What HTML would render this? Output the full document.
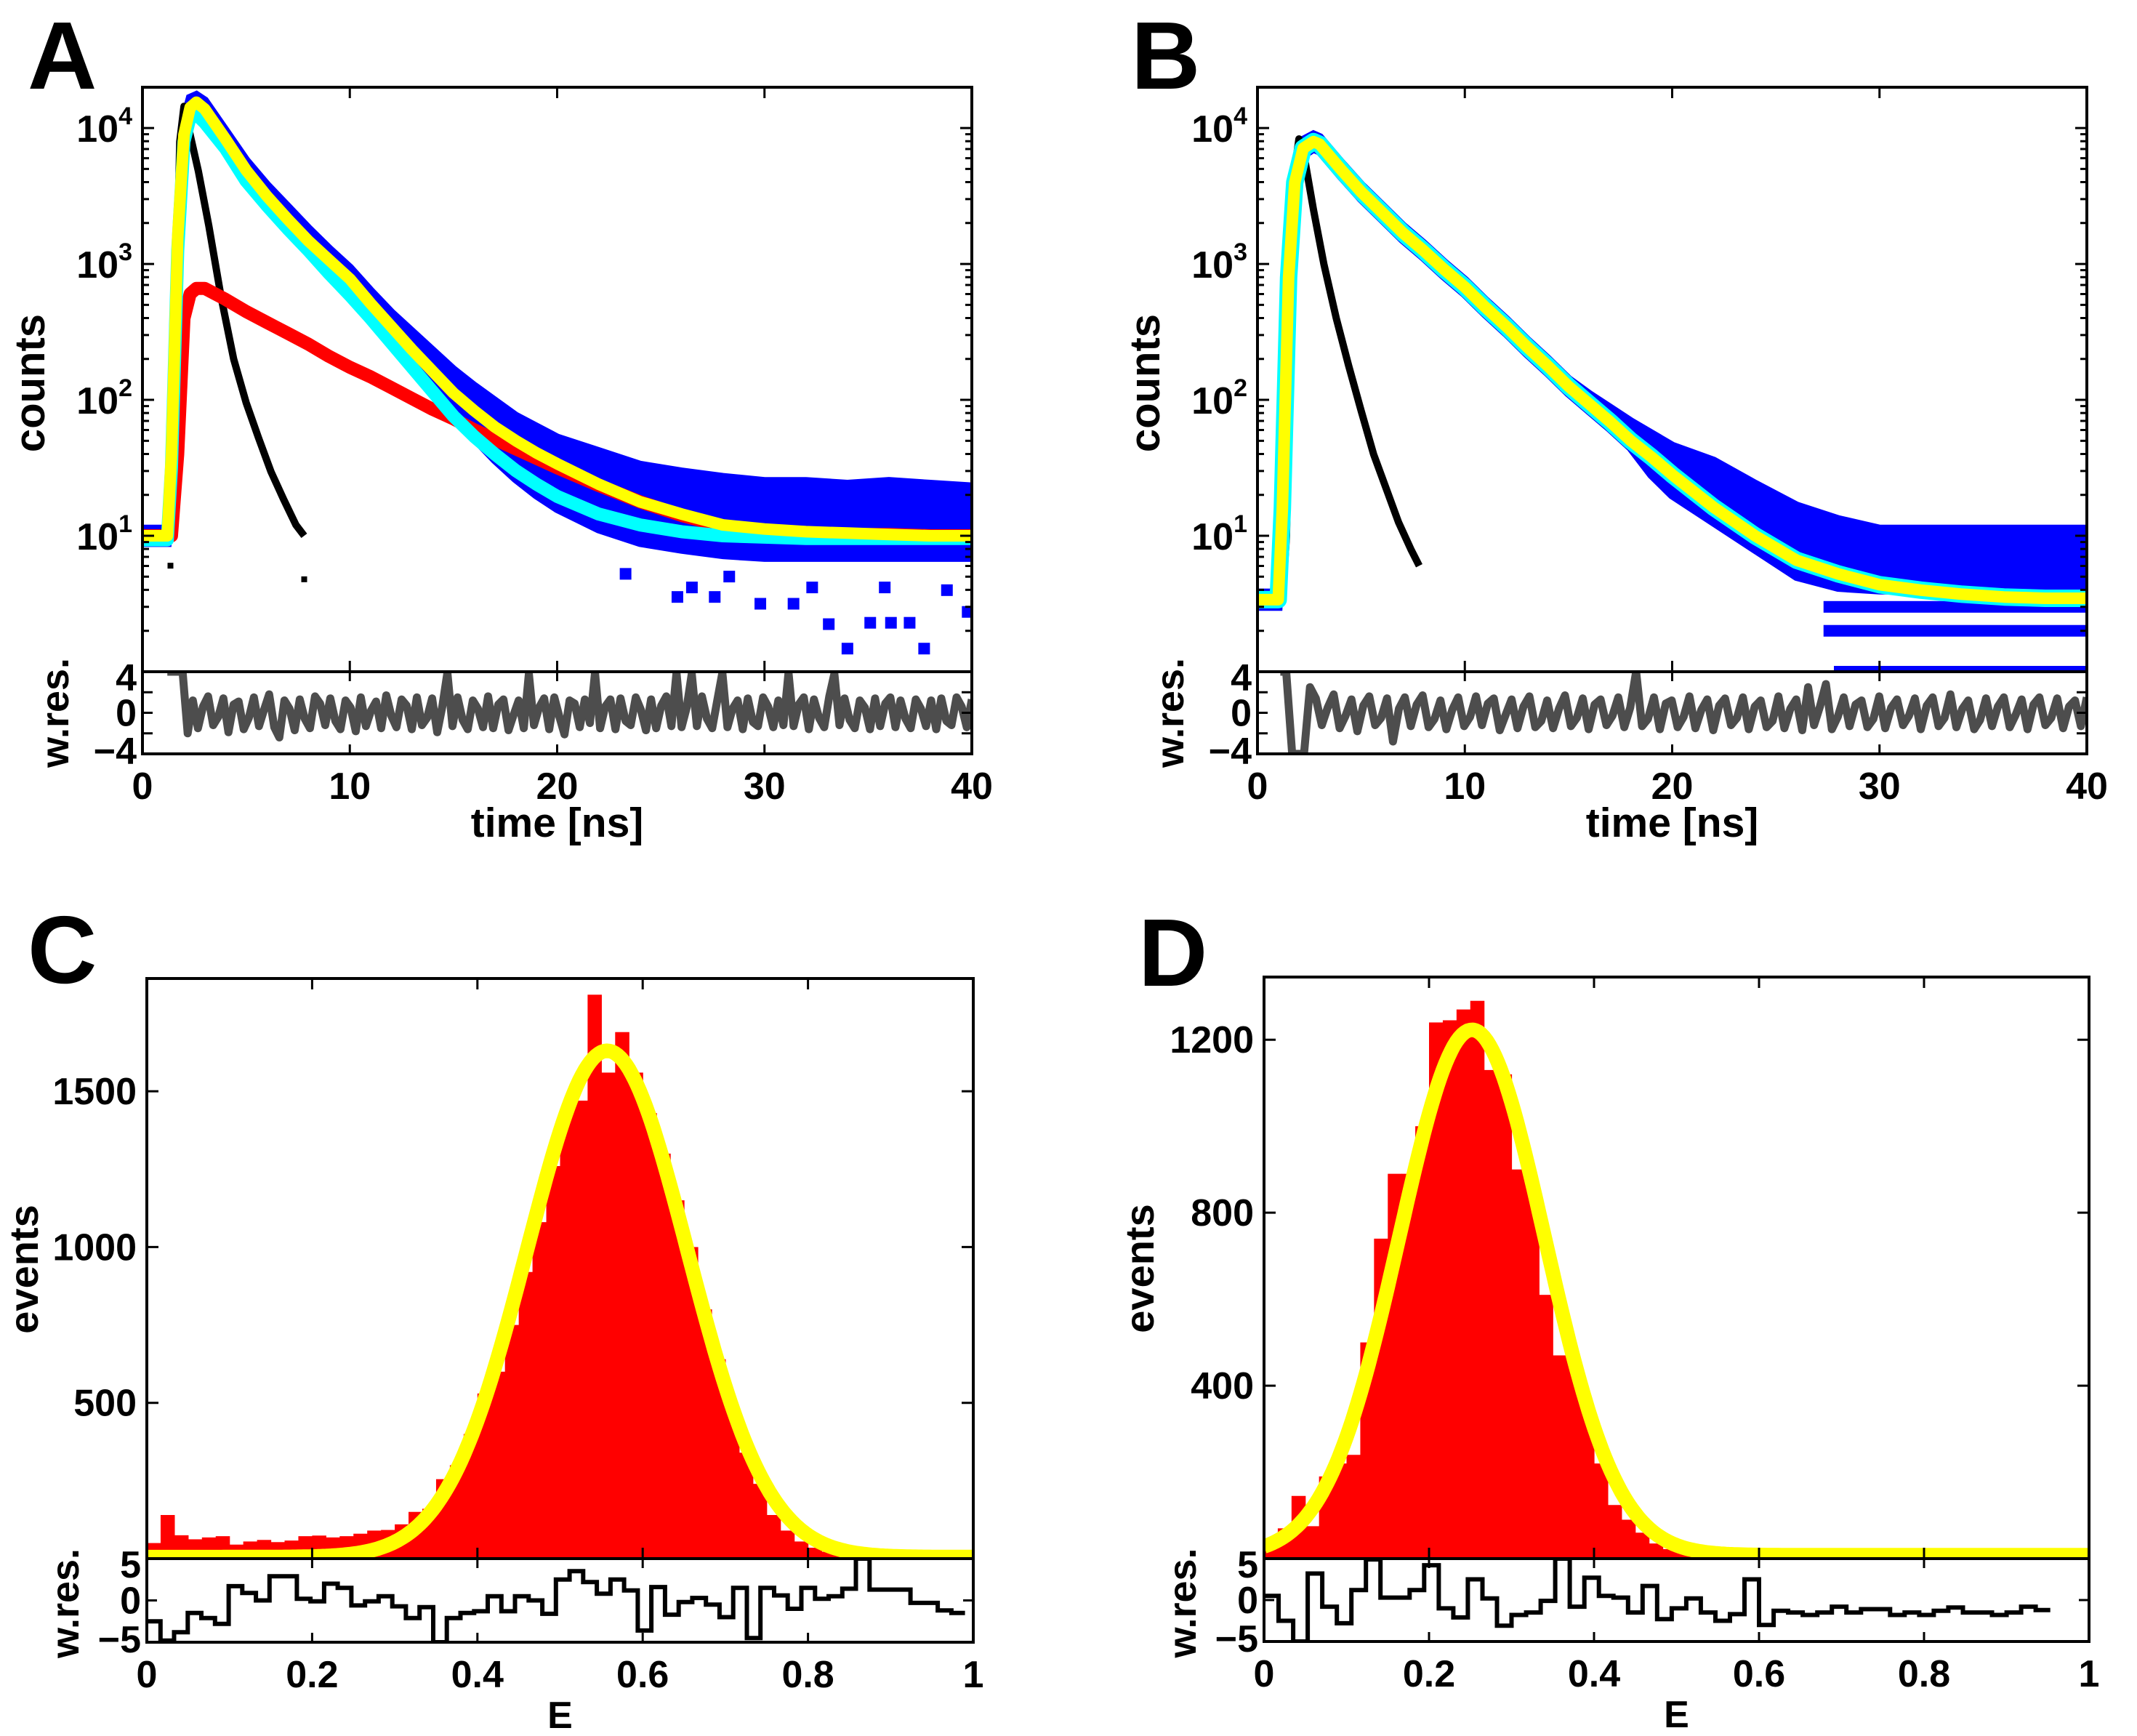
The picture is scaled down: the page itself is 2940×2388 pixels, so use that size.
<!DOCTYPE html>
<html><head><meta charset="utf-8"><title>Fluorescence decay and FRET histograms</title>
<style>html,body{margin:0;padding:0;background:#fff;}svg{display:block;font-family:"Liberation Sans",Arial,sans-serif;font-weight:bold;}</style>
</head><body>
<svg id="chart" xmlns="http://www.w3.org/2000/svg" width="2940" height="2388" viewBox="0 0 2940 2388">
<rect x="0" y="0" width="2940" height="2388" fill="#fff"/>
<defs>
<clipPath id="clipAm"><rect x="196" y="120" width="1141" height="804"/></clipPath>
<clipPath id="clipAr"><rect x="196" y="924" width="1141" height="113"/></clipPath>
<clipPath id="clipBm"><rect x="1730" y="120" width="1141" height="804"/></clipPath>
<clipPath id="clipBr"><rect x="1730" y="924" width="1141" height="113"/></clipPath>
<clipPath id="clipCm"><rect x="202" y="1346" width="1137" height="798"/></clipPath>
<clipPath id="clipCr"><rect x="202" y="2144" width="1137" height="115"/></clipPath>
<clipPath id="clipDm"><rect x="1739" y="1344" width="1135" height="800"/></clipPath>
<clipPath id="clipDr"><rect x="1739" y="2144" width="1135" height="114"/></clipPath>
</defs>
</svg>
<script>
// ---------- Panel A data (log10 counts) ----------
const tA = [0,1.2,1.4,1.7,2.0,2.3,2.6,3,4,5,6,7,8,9,10,11,12,13,14,15,16,17,18,19,20,22,24,26,28,30,32,34,36,38,40];
const yellowA = [1,1,1.6,3.2,3.95,4.15,4.19,4.14,3.92,3.69,3.5,3.33,3.17,3.03,2.89,2.71,2.54,2.37,2.21,2.05,1.92,1.8,1.7,1.61,1.53,1.38,1.25,1.16,1.08,1.05,1.03,1.02,1.01,1.0,1.0];
const cyanA = [0.97,0.97,1.5,3.1,3.9,4.08,4.1,4.04,3.85,3.61,3.43,3.26,3.1,2.93,2.77,2.6,2.42,2.24,2.06,1.88,1.73,1.6,1.48,1.38,1.29,1.16,1.08,1.03,1.0,0.99,0.98,0.98,0.98,0.98,0.98];
const redA = [1,1,1,1.6,2.6,2.78,2.82,2.82,2.74,2.65,2.57,2.49,2.41,2.32,2.24,2.17,2.09,2.01,1.93,1.86,1.78,1.71,1.64,1.57,1.5,1.37,1.25,1.15,1.07,1.04,1.02,1.01,1.01,1.0,1.0];
const blueHiA = [1.05,1.05,1.7,3.35,4.05,4.22,4.24,4.2,3.98,3.76,3.58,3.42,3.26,3.11,2.97,2.8,2.64,2.5,2.36,2.22,2.1,1.99,1.88,1.8,1.72,1.62,1.52,1.47,1.43,1.4,1.4,1.38,1.4,1.38,1.36];
const blueLoA = [0.95,0.95,1.4,3.0,3.9,4.12,4.15,4.1,3.88,3.65,3.45,3.28,3.12,2.98,2.84,2.64,2.46,2.28,2.1,1.9,1.72,1.56,1.42,1.3,1.2,1.05,0.95,0.9,0.86,0.84,0.84,0.84,0.84,0.84,0.84];
const outTA = [23.3,25.8,26.5,27.6,28.3,29.8,31.4,32.3,33.1,34.0,35.1,35.8,36.1,37.0,37.7,38.8,39.8];
const outYA = [0.72,0.55,0.62,0.55,0.7,0.5,0.5,0.62,0.35,0.17,0.36,0.62,0.36,0.36,0.17,0.6,0.44];
const irfTA = [1.4,1.6,1.8,2.0,2.3,2.7,3.2,3.8,4.4,5,5.6,6.2,6.8,7.4,7.8];
const irfYA = [1.0,2.5,3.9,4.16,3.95,3.68,3.28,2.75,2.3,1.98,1.72,1.47,1.27,1.08,1.0];
const irfOutTA = [1.35,7.8];
const irfOutYA = [0.78,0.68];
const resA = [4,4,4,4,-2,1.2,-1.5,0.6,1.6,-1.2,-0.4,1.4,-1.9,0.8,1.1,-1.6,-0.5,1.5,-1.3,0.3,1.8,-1.4,-2.4,1.2,0.4,-1.7,1.3,-0.6,-1.5,1.6,0.9,-1.2,1.4,-0.8,-1.6,1.2,0.5,-1.8,1.5,-1.3,0.2,1.1,-1.5,1.7,-0.3,-1.4,1.3,0.7,-1.6,1.5,-1.2,-0.5,1.4,-1.9,0.6,3.9,-1.3,1.5,-0.7,-1.6,1.2,0.4,-1.4,1.6,-1.5,0.8,1.3,-1.7,-0.2,1.2,-1.5,3.8,-1.2,0.5,1.4,-1.6,1.5,-0.4,-2.1,1.2,0.9,-1.4,1.3,-1.0,3.9,-1.5,0.6,1.3,-1.6,1.4,-0.8,-1.2,1.5,0.3,-1.7,1.3,-1.5,0.7,1.6,-1.3,3.9,-1.4,0.5,3.8,-1.3,1.6,-0.6,-1.5,1.2,3.9,-1.4,0.4,1.2,-1.6,1.4,-0.9,-1.3,1.5,0.6,-1.4,1.2,-1.2,3.9,-1.3,0.8,1.5,-1.6,1.3,-0.5,-1.4,1.6,3.8,-1.2,1.4,-0.7,-1.5,1.2,0.5,-1.6,1.4,-1.3,0.9,1.5,-1.4,1.2,-0.6,-1.5,1.3,0.4,-1.3,1.2,-1.6,1.4,-0.8,-1.2,1.5,0.6,-1.4,1.3];

// ---------- Panel B data ----------
const tB = [0,1.0,1.2,1.5,1.8,2.2,2.7,3,4,5,6,7,8,9,10,11,12,13,14,15,16,17,18,19,20,22,24,26,28,30,32,34,36,38,40];
const yellowB = [0.53,0.53,1.2,2.9,3.6,3.85,3.9,3.88,3.7,3.53,3.38,3.23,3.1,2.96,2.83,2.68,2.54,2.39,2.25,2.1,1.97,1.84,1.7,1.58,1.45,1.21,1.0,0.82,0.72,0.64,0.6,0.57,0.55,0.54,0.54];
const blueHiB = [0.58,0.58,1.3,3.0,3.66,3.91,3.95,3.93,3.75,3.58,3.43,3.28,3.15,3.01,2.88,2.73,2.59,2.44,2.3,2.15,2.04,1.94,1.84,1.75,1.66,1.55,1.38,1.22,1.12,1.05,1.05,1.05,1.05,1.05,1.05];
const blueLoB = [0.48,0.48,1.1,2.8,3.55,3.8,3.85,3.83,3.65,3.48,3.33,3.18,3.05,2.91,2.78,2.63,2.49,2.34,2.2,2.05,1.92,1.79,1.65,1.45,1.3,1.1,0.9,0.7,0.62,0.6,0.6,0.6,0.6,0.6,0.6];
const rowLevelB = [3,2,1];
const rowStartB = [27.3,27.3,27.8];
const rowEndB = [40,40,40];
const irfTB = [1.2,1.4,1.6,1.8,2.0,2.3,2.7,3.2,3.8,4.4,5,5.6,6.2,6.8,7.4,7.8];
const irfYB = [0.53,1.0,2.6,3.7,3.92,3.75,3.4,3.0,2.6,2.25,1.92,1.6,1.35,1.1,0.9,0.78];
const resB = [4,4,-4,-4,-4,2.5,1.4,-1.2,0.5,1.8,-1.5,-0.3,1.3,-1.8,0.7,1.6,-1.2,-0.5,1.4,-2.8,0.4,1.5,-1.3,0.8,1.7,-1.4,-0.6,1.2,-1.6,0.3,1.5,-1.3,-0.4,1.6,-1.2,0.9,1.4,-1.7,-0.2,1.3,-1.5,0.6,1.6,-1.4,-0.8,1.2,-1.5,0.4,1.7,-1.3,-0.5,1.4,-1.6,0.8,1.3,-1.2,-0.3,1.5,-1.4,0.5,4,-1.3,-0.6,1.5,-1.6,0.9,1.2,-1.4,-0.4,1.6,-1.5,0.3,1.3,-1.7,0.7,1.4,-1.2,-0.5,1.5,-1.6,0.6,1.2,-1.4,-0.8,1.6,-1.5,0.4,1.3,-1.7,2.5,-1.2,0.6,2.8,-1.6,-0.4,1.5,-1.3,0.8,1.2,-1.4,-0.6,1.6,-1.5,0.5,1.3,-1.2,-0.3,1.4,-1.6,0.7,1.5,-1.3,-0.5,1.8,-1.4,0.4,1.2,-1.6,-0.7,1.4,-1.3,0.6,1.5,-1.4,-0.2,1.3,-1.6,0.8,1.5,-1.2,-0.5,1.4,-1.5,0.6,1.2,-1.3,1.5];

// ---------- Panel C data (histogram, 60 bins on E in [0,1]) ----------
const histC = [50,140,75,62,68,72,45,55,60,53,58,72,74,68,72,80,90,92,110,150,160,255,300,400,530,600,750,920,1080,1260,1430,1470,1810,1560,1690,1560,1430,1300,1150,1000,800,640,480,340,240,140,90,55,35,22,15,12,10,8,8,6,6,5,5,5];
const fitC = [1625,0.557,0.097,5]; // amplitude, mean, sigma, baseline
const resC = [-2.5,-4.8,-3.8,-1.5,-2.1,-2.8,1.7,0.9,0,2.9,2.9,0.2,-0.1,2.0,1.5,-0.6,-0.1,0.5,-0.7,-2.1,-0.8,-5,-2.1,-1.5,-1.3,0.5,-1.3,0.5,0,-1.6,2.5,3.5,2.2,0.8,2.5,1.2,-3.6,1.6,-1.7,-0.2,0.3,-0.5,-2.0,1.5,-4.5,1.5,0.6,-1.0,1.5,0.2,0.5,1.4,5,1.3,1.3,1.3,-0.3,-0.3,-1.2,-1.5];
const resEndC = 0.99;

// ---------- Panel D data ----------
const histD = [40,70,145,75,190,220,240,500,740,890,890,1000,1240,1245,1270,1290,1130,1120,900,870,610,470,460,345,220,124,90,60,35,22,14,8,6,4,3,2,2,1,1,1,0,0,0,0,0,0,0,0,0,0,0,0,0,0,0,0,0,0,0,0];
const fitD = [1215,0.252,0.088,8];
const resD = [0.5,-2.5,-5,3.2,-0.8,-2.8,1.2,4.9,0.3,0.3,1.2,4.2,-1,-2.1,2.5,0.2,-3.1,-1.8,-1.5,-0.1,5,-0.8,2.7,0.5,0.3,-1.5,1.7,-2.3,-1,0.2,-1.5,-2.5,-1.7,2.5,-3,-1.3,-1.5,-1.8,-1.5,-0.8,-1.5,-1.1,-1.1,-1.8,-1.5,-1.8,-1.3,-0.9,-1.5,-1.5,-1.8,-1.5,-0.8,-1.2];
const resEndD = 0.953;

// ---------- tick labels ----------
const timeTicks = [0,10,20,30,40];
const logTicks = [1,2,3,4];
const resTicksTime = [-4,0,4];
const eTicks = [0,0.2,0.4,0.6,0.8,1];
const eTickLabels = ['0','0.2','0.4','0.6','0.8','1'];
const yTicksC = [500,1000,1500];
const yTicksD = [400,800,1200];
const resTicksE = [-5,0,5];

const NS='http://www.w3.org/2000/svg';
const svg=document.getElementById('chart');
function mk(tag,attrs,parent){const e=document.createElementNS(NS,tag);for(const k in attrs)e.setAttribute(k,attrs[k]);(parent||svg).appendChild(e);return e;}

const PA={x0:196,x1:1337,top:120,mid:924,bot:1037,v0:0,v1:40,y0:0,y1:4.3,r0:-4,r1:4};
const PB={x0:1730,x1:2871,top:120,mid:924,bot:1037,v0:0,v1:40,y0:0,y1:4.3,r0:-4,r1:4};
const PC={x0:202,x1:1339,top:1346,mid:2144,bot:2259,v0:0,v1:1,y0:0,y1:1862,r0:-5,r1:5};
const PD={x0:1739,x1:2874,top:1344,mid:2144,bot:2258,v0:0,v1:1,y0:0,y1:1345,r0:-5,r1:5};
function fx(p,v){return p.x0+(v-p.v0)/(p.v1-p.v0)*(p.x1-p.x0);}
function fy(p,v){return p.mid-(v-p.y0)/(p.y1-p.y0)*(p.mid-p.top);}
function fr(p,v){return p.bot-(v-p.r0)/(p.r1-p.r0)*(p.bot-p.mid);}
function pts(p,xs,ys){return xs.map((x,i)=>fx(p,x).toFixed(1)+','+fy(p,ys[i]).toFixed(1)).join(' ');}

function text(str,x,y,size,anchor,parent){return mk('text',{x:x,y:y,'font-size':size,'text-anchor':anchor||'middle',fill:'#000'},parent);}

function frameAndTicks(p,g,id,isTime){
  const fm=mk('rect',{x:p.x0,y:p.top,width:p.x1-p.x0,height:p.mid-p.top,fill:'none',stroke:'#000','stroke-width':4},g);
  
  
  const fres=mk('rect',{x:p.x0,y:p.mid,width:p.x1-p.x0,height:p.bot-p.mid,fill:'none',stroke:'#000','stroke-width':4},g);
  
  
  const xt=isTime?timeTicks:eTicks;
  xt.forEach((v,i)=>{
    const x=fx(p,v);
    const tk=mk('path',{d:`M${x},${p.top}v15M${x},${p.mid}v-15M${x},${p.mid}v13M${x},${p.bot}v-13`,stroke:'#000','stroke-width':3},g);
    
    
    const lb=text('',x,p.bot+62,52,'middle',g);
    lb.textContent=isTime?String(v):eTickLabels[i];
    
    
  });
  const xt2=text('',(p.x0+p.x1)/2,p.bot+(isTime?114:118),isTime?57:52,'middle',g);
  xt2.textContent=isTime?'time [ns]':'E';
  
  
  const rt=isTime?resTicksTime:resTicksE;
  rt.forEach(v=>{
    const y=fr(p,v);
    const tk=mk('path',{d:`M${p.x0},${y}h14M${p.x1},${y}h-14`,stroke:'#000','stroke-width':3},g);
    
    
    const lb=text('',p.x0-8,y+18+(v>0?8:(v<0?-4:0)),52,'end',g);
    lb.textContent=v<0?'\u2212'+Math.abs(v):String(v);
    
    
  });
  if(isTime){
    [-2,2].forEach(v=>{const y=fr(p,v);const tk=mk('path',{d:`M${p.x0},${y}h14M${p.x1},${y}h-14`,stroke:'#000','stroke-width':3},g);
      
      });
  }
  const wr=mk('text',{transform:`translate(${p.x0-(isTime?102:94)},${(p.mid+p.bot)/2+(isTime?0:4)}) rotate(-90)`,'font-size':54,'text-anchor':'middle',fill:'#000'},g);
  wr.textContent='w.res.';
  
  
}

function timePanel(p,id,letter,letterX,d){
  const g=mk('g',{});
  
  
  const gm=mk('g',{'clip-path':`url(#clip${id}m)`},g);
  
  
  const bandPts=pts(p,d.t,d.hi)+' '+pts(p,d.t.slice().reverse(),d.lo.slice().reverse());
  const band=mk('polygon',{points:bandPts,fill:'#0000ff',stroke:'#0000ff','stroke-width':12,'stroke-linejoin':'miter'},gm);
  
  
  if(d.outT){d.outT.forEach((t,i)=>{
    const r=mk('rect',{x:fx(p,t)-8,y:fy(p,d.outY[i])-8,width:16,height:16,fill:'#0000ff'},gm);
    
    
  });}
  if(d.rowLevel){d.rowLevel.forEach((c,i)=>{
    const y=fy(p,Math.log10(c));
    const r=mk('rect',{x:fx(p,d.rowStart[i]),y:y-8,width:fx(p,d.rowEnd[i])-fx(p,d.rowStart[i]),height:16,fill:'#0000ff'},gm);
    
    
  });}
  const irf=mk('polyline',{points:pts(p,d.irfT,d.irfY),fill:'none',stroke:'#000','stroke-width':10,'stroke-linejoin':'round'},gm);
  
  
  if(d.irfOutT){d.irfOutT.forEach((t,i)=>{
    const r=mk('rect',{x:fx(p,t)-4,y:fy(p,d.irfOutY[i])-4,width:8,height:8,fill:'#000'},gm);
    
    
  });}
  if(d.red){const l=mk('polyline',{points:pts(p,d.t,d.red),fill:'none',stroke:'#ff0000','stroke-width':18,'stroke-linejoin':'round'},gm);
    
    }
  const cy=mk('polyline',{points:pts(p,d.t,d.cyan),fill:'none',stroke:'#00ffff','stroke-width':d.red?18:24,'stroke-linejoin':'round'},gm);
  
  
  const ye=mk('polyline',{points:pts(p,d.t,d.yellow),fill:'none',stroke:'#ffff00','stroke-width':16,'stroke-linejoin':'round'},gm);
  
  
  const gr=mk('g',{'clip-path':`url(#clip${id}r)`},g);
  
  
  const n=d.res.length, t0=d.resT0, dt=(40-t0)/(n-1);
  const rp=d.res.map((v,i)=>fx(p,t0+i*dt).toFixed(1)+','+fr(p,v).toFixed(1)).join(' ');
  const rl=mk('polyline',{points:rp,fill:'none',stroke:'#4d4d4d','stroke-width':11,'stroke-linejoin':'round'},gr);
  
  
  for(let dd=0;dd<=4;dd++){for(let k=1;k<=9;k++){
    const v=dd+Math.log10(k); if(v>p.y1) continue;
    const y=fy(p,v), L=k===1?16:9;
    const tk=mk('path',{d:`M${p.x0},${y}h${L}M${p.x1},${y}h-${L}`,stroke:'#000','stroke-width':3},g);
    
    
  }}
  logTicks.forEach(v=>{
    const y=fy(p,v);
    const lb=mk('text',{x:p.x0-14,y:y+19,'font-size':52,'text-anchor':'end',fill:'#000'},g);
    lb.appendChild(document.createTextNode('10'));
    const sp=mk('tspan',{dy:-24,'font-size':34},lb);
    sp.textContent=String(v);
    
    
  });
  const yt=mk('text',{transform:`translate(${p.x0-135},${(p.top+p.mid)/2+5}) rotate(-90)`,'font-size':58,'text-anchor':'middle',fill:'#000'},g);
  yt.textContent='counts';
  
  
  frameAndTicks(p,g,id,true);
  const pl=mk('text',{x:letterX,y:122,'font-size':132,'text-anchor':'start',fill:'#000'},g);
  pl.textContent=letter;
  
  
}

function histPanel(p,id,letter,letterX,letterY,hist,fit,res,resEnd,yTicks){
  const g=mk('g',{});
  
  
  const gm=mk('g',{'clip-path':`url(#clip${id}m)`},g);
  
  
  const n=hist.length, w=1/n;
  hist.forEach((v,i)=>{
    if(v<=0) return;
    const x=fx(p,i*w), x2=fx(p,(i+1)*w), y=fy(p,v);
    const r=mk('rect',{x:x,y:y,width:x2-x+0.6,height:p.mid-y,fill:'#ff0000'},gm);
    
    
  });
  const fp=[];
  for(let k=0;k<=300;k++){const e=k/300;const v=fit[0]*Math.exp(-Math.pow(e-fit[1],2)/(2*fit[2]*fit[2]))+fit[3];fp.push(fx(p,e).toFixed(1)+','+fy(p,v).toFixed(1));}
  const fl=mk('polyline',{points:fp.join(' '),fill:'none',stroke:'#ffff00','stroke-width':20,'stroke-linejoin':'round'},gm);
  
  
  const gr=mk('g',{'clip-path':`url(#clip${id}r)`},g);
  
  
  const rw=resEnd/res.length;
  let d=`M${fx(p,0)},${fr(p,res[0])}`;
  res.forEach((v,i)=>{d+=`V${fr(p,v).toFixed(1)}H${fx(p,(i+1)*rw).toFixed(1)}`;});
  const rl=mk('path',{d:d,fill:'none',stroke:'#000','stroke-width':6},gr);
  
  
  yTicks.forEach(v=>{
    const y=fy(p,v);
    const tk=mk('path',{d:`M${p.x0},${y}h16M${p.x1},${y}h-16`,stroke:'#000','stroke-width':3},g);
    
    
    const lb=text('',p.x0-14,y+18,52,'end',g);
    lb.textContent=String(v);
    
    
  });
  const yt=mk('text',{transform:`translate(${p.x0-(id==='C'?150:152)},${(p.top+p.mid)/2+1}) rotate(-90)`,'font-size':56,'text-anchor':'middle',fill:'#000'},g);
  yt.textContent='events';
  
  
  frameAndTicks(p,g,id,false);
  const pl=mk('text',{x:letterX,y:letterY,'font-size':132,'text-anchor':'start',fill:'#000'},g);
  pl.textContent=letter;
  
  
}

timePanel(PA,'A','A',38,{t:tA,yellow:yellowA,cyan:cyanA,red:redA,hi:blueHiA,lo:blueLoA,outT:outTA,outY:outYA,irfT:irfTA,irfY:irfYA,irfOutT:irfOutTA,irfOutY:irfOutYA,res:resA,resT0:1.2});
timePanel(PB,'B','B',1556,{t:tB,yellow:yellowB,cyan:yellowB,hi:blueHiB,lo:blueLoB,rowLevel:rowLevelB,rowStart:rowStartB,rowEnd:rowEndB,irfT:irfTB,irfY:irfYB,res:resB,resT0:1.1});
histPanel(PC,'C','C',38,1352,histC,fitC,resC,resEndC,yTicksC);
histPanel(PD,'D','D',1566,1356,histD,fitD,resD,resEndD,yTicksD);
</script>
</body></html>
